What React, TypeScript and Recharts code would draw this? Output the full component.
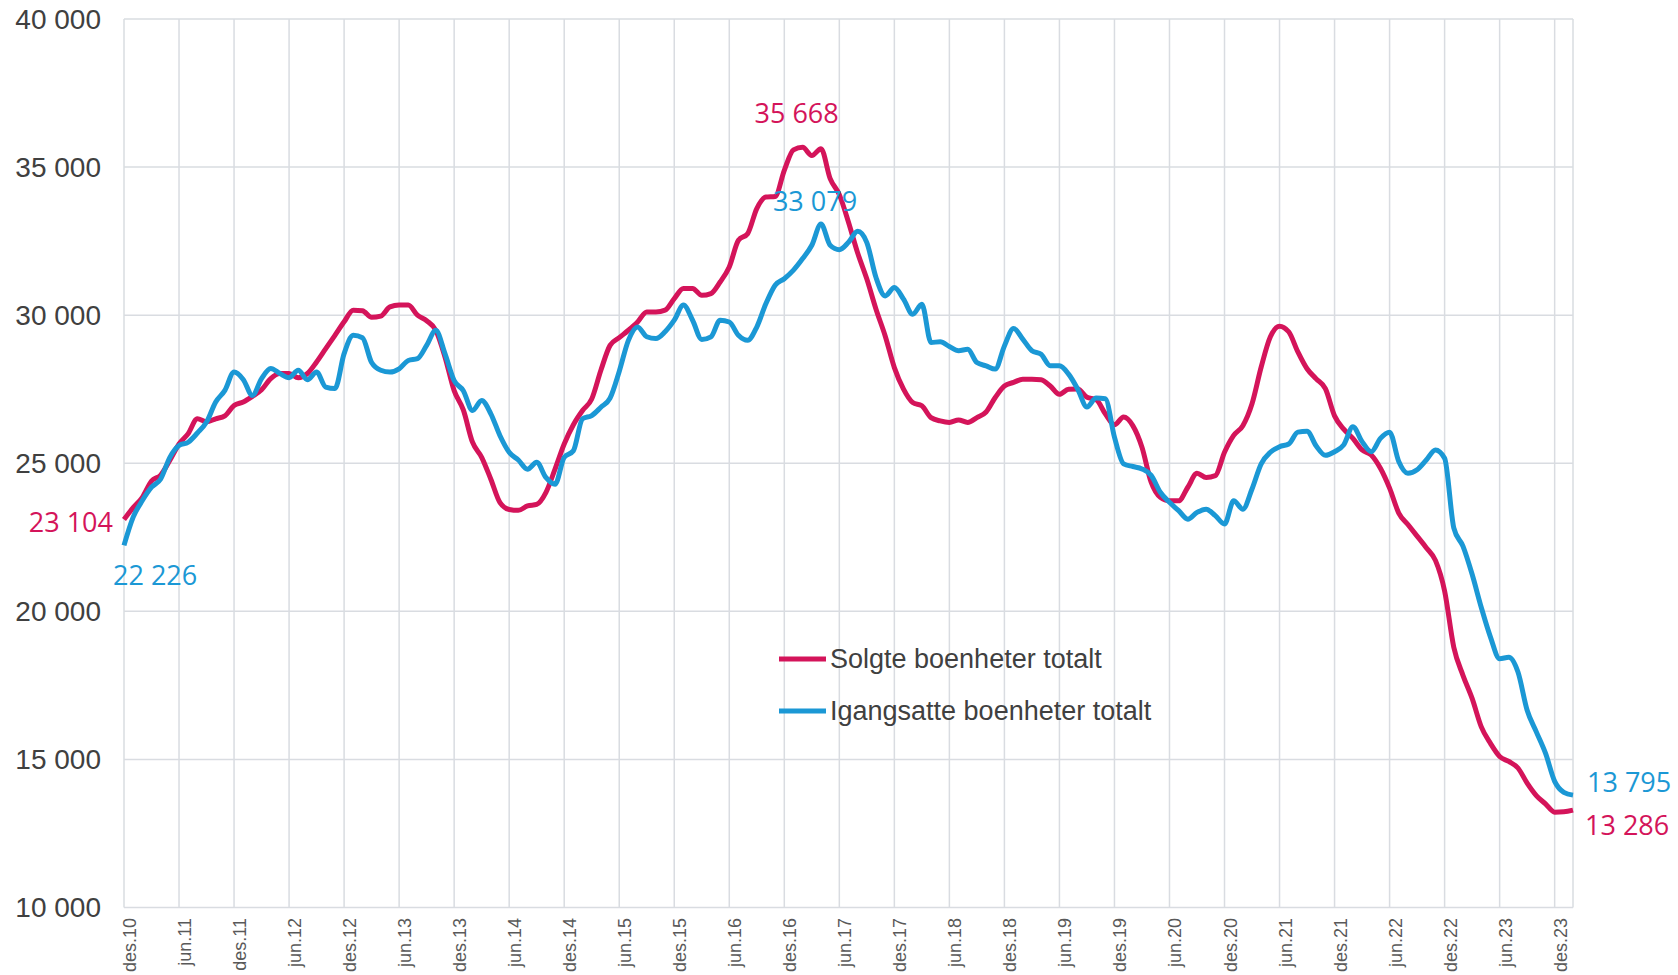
import React from "react";
import { LineChart, Line, XAxis, YAxis, CartesianGrid, Legend, LabelList } from "recharts";

const MONTH_NAMES = ["jan", "feb", "mar", "apr", "mai", "jun", "jul", "aug", "sep", "okt", "nov", "des"];
const START_YEAR = 2010;
const START_MONTH = 11; // des.10
const N_POINTS = 159; // des.10 .. feb.24

const solgte = [
  23104, 23500, 23850, 24400, 24600, 25100, 25650, 26000, 26500, 26400,
  26500, 26600, 26950, 27070, 27260, 27480, 27860, 28030, 28030, 27890,
  28030, 28420, 28870, 29320, 29775, 30170, 30150, 29930, 29970, 30280,
  30340, 30340, 30000, 29810, 29490, 28590, 27450, 26800, 25710, 25200,
  24460, 23670, 23440, 23410, 23560, 23610, 24010, 24800, 25650, 26300,
  26780, 27170, 28140, 28980, 29240, 29490, 29770, 30110, 30110, 30170,
  30560, 30900, 30900, 30670, 30730, 31120, 31630, 32530, 32750, 33600,
  33990, 34010, 34890, 35580, 35668, 35390, 35620, 34610, 34070, 33140,
  32100, 31220, 30200, 29300, 28230, 27500, 27050, 26940, 26540, 26430,
  26380, 26460, 26380, 26540, 26730, 27220, 27610, 27730, 27840, 27840,
  27820, 27610, 27330, 27500, 27510, 27230, 27150, 26670, 26300, 26560,
  26270, 25540, 24360, 23850, 23730, 23730, 24190, 24660, 24520, 24580,
  25370, 25940, 26270, 27010, 28250, 29270, 29630, 29440, 28760, 28190,
  27850, 27520, 26600, 26150, 25840, 25450, 25280, 24830, 24160, 23320,
  22930, 22540, 22150, 21720, 20690, 18790, 17840, 17060, 16100, 15540,
  15100, 14930, 14710, 14200, 13780, 13500, 13220, 13230, 13286,
];

const igangsatte = [
  22226, 23180, 23740, 24190, 24470, 25200, 25600, 25710, 26020, 26390,
  27070, 27460, 28080, 27830, 27290, 27860, 28200, 28030, 27890, 28140,
  27820, 28080, 27570, 27520, 28700, 29320, 29240, 28400, 28140, 28080,
  28190, 28470, 28530, 28980, 29490, 28700, 27790, 27450, 26780, 27120,
  26670, 25930, 25370, 25110, 24800, 25030, 24520, 24290, 25200, 25420,
  26500, 26610, 26890, 27200, 28100, 29150, 29600, 29270, 29210, 29440,
  29830, 30340, 29830, 29180, 29270, 29830, 29770, 29320, 29150, 29600,
  30390, 31010, 31230, 31520, 31910, 32360, 33079, 32360, 32210, 32460,
  32830, 32450, 31270, 30650, 30930, 30540, 30030, 30370, 29080, 29100,
  28940, 28800, 28850, 28400, 28290, 28180, 28960, 29550, 29190, 28800,
  28680, 28290, 28290, 28010, 27500, 26900, 27200, 27180, 25880, 24980,
  24890, 24810, 24590, 24020, 23680, 23400, 23110, 23340, 23450, 23230,
  22950, 23730, 23450, 24130, 24980, 25370, 25560, 25650, 26050, 26080,
  25580, 25270, 25390, 25620, 26230, 25730, 25390, 25840, 26050, 25060,
  24660, 24780, 25110, 25450, 25170, 22820, 22200, 21250, 20130, 19130,
  18400, 18450, 17950, 16660, 15930, 15210, 14260, 13890, 13795,
];

const Y_TICKS = [10000, 15000, 20000, 25000, 30000, 35000, 40000];
const X_TICK_MONTHS = ["jun", "des"];

const SERIES_NAMES = ["Solgte boenheter totalt", "Igangsatte boenheter totalt"];
const RED = "#D4145A";
const BLUE = "#1B98D5";
const GRID = "#D9DCE1";

const categories: string[] = [];
for (let i = 0; i < N_POINTS; i++) {
  const mi = (START_MONTH + i) % 12;
  const yr = START_YEAR + Math.floor((START_MONTH + i) / 12);
  categories.push(`${MONTH_NAMES[mi]}.${String(yr % 100).padStart(2, "0")}`);
}
const xTicks = categories.filter((c) => X_TICK_MONTHS.includes(c.split(".")[0]));

const data = categories.map((m, i) => ({ month: m, solgte: solgte[i], igangsatte: igangsatte[i] }));

const fmt = (v: number) => {
  const th = Math.floor(v / 1000);
  const rest = String(Math.round(v % 1000)).padStart(3, "0");
  return `${th} ${rest}`;
};

const argMax = (arr: number[]) => arr.reduce((bi, v, i) => (v > arr[bi] ? i : bi), 0);

type Spec = { index: number; dx: number; dy: number; anchor: "start" | "middle" | "end" };

const redSpecs: Spec[] = [
  { index: 0, dx: -11, dy: 2.5, anchor: "end" },
  { index: argMax(solgte), dx: -6, dy: -34, anchor: "middle" },
  { index: solgte.length - 1, dx: 12, dy: 15, anchor: "start" },
];
const blueSpecs: Spec[] = [
  { index: 0, dx: -11, dy: 29.5, anchor: "start" },
  { index: argMax(igangsatte), dx: -6, dy: -23, anchor: "middle" },
  { index: igangsatte.length - 1, dx: 14, dy: -13, anchor: "start" },
];

const makeLabel = (color: string, specs: Spec[]) => (props: any) => {
  const { x, y, index, value } = props;
  const spec = specs.find((s) => s.index === index);
  if (!spec || x == null || y == null) return null;
  return (
    <text
      x={x + spec.dx}
      y={y + spec.dy}
      dy="0.36em"
      textAnchor={spec.anchor}
      fill={color}
      fontSize={27}
      fontFamily="'Open Sans', 'Noto Sans', sans-serif"
    >
      {fmt(Number(value))}
    </text>
  );
};

const XTick = (props: any) => {
  const { x, y, payload } = props;
  return (
    <text
      transform={`translate(${x + 12},${y + 2.5}) rotate(-90)`}
      x={0}
      y={0}
      textAnchor="end"
      fontSize={18}
      fill="#595959"
      fontFamily="'Liberation Sans', Arial, sans-serif"
    >
      {payload.value}
    </text>
  );
};

const LegendContent = (props: any) => {
  const items = [...(props.payload || [])].sort(
    (a: any, b: any) => SERIES_NAMES.indexOf(a.value) - SERIES_NAMES.indexOf(b.value)
  );
  return (
    <div style={{ fontFamily: "'Liberation Sans', Arial, sans-serif" }}>
      {items.map((p: any) => (
        <div key={p.value} style={{ display: "flex", alignItems: "center", height: 52 }}>
          <svg width={47} height={8} style={{ display: "block" }}>
            <line x1={0} y1={4} x2={47} y2={4} stroke={p.color} strokeWidth={5} strokeLinecap="round" />
          </svg>
          <span style={{ marginLeft: 4, fontSize: 27, color: "#404040", lineHeight: "52px", whiteSpace: "nowrap" }}>
            {p.value}
          </span>
        </div>
      ))}
    </div>
  );
};

export default function App() {
  return (
    <div style={{ width: 1678, height: 975, background: "#fff" }}>
      <style>{"body{margin:0;background:#fff}"}</style>
      <LineChart
        width={1678}
        height={975}
        data={data}
        margin={{ top: 19, right: 105, bottom: 0, left: 0 }}
      >
        <CartesianGrid stroke={GRID} strokeWidth={1.5} />
        <XAxis
          dataKey="month"
          ticks={xTicks}
          interval={0}
          height={67.5}
          axisLine={false}
          tickLine={false}
          tick={<XTick />}
        />
        <YAxis
          domain={[10000, 40000]}
          ticks={Y_TICKS}
          width={124}
          axisLine={false}
          tickLine={false}
          tickMargin={17}
          tickFormatter={fmt}
          tick={{ fontSize: 28, fill: "#404040", fontFamily: "'Liberation Sans', Arial, sans-serif" }}
        />
        <Legend
          layout="vertical"
          align="center"
          verticalAlign="middle"
          wrapperStyle={{ left: 779, top: 633, width: 420 }}
          content={<LegendContent />}
        />
        <Line
          type="monotone"
          dataKey="solgte"
          name={SERIES_NAMES[0]}
          stroke={RED}
          strokeWidth={5}
          dot={false}
          activeDot={false}
          isAnimationActive={false}
        >
          <LabelList dataKey="solgte" content={makeLabel(RED, redSpecs)} />
        </Line>
        <Line
          type="monotone"
          dataKey="igangsatte"
          name={SERIES_NAMES[1]}
          stroke={BLUE}
          strokeWidth={5}
          dot={false}
          activeDot={false}
          isAnimationActive={false}
        >
          <LabelList dataKey="igangsatte" content={makeLabel(BLUE, blueSpecs)} />
        </Line>
      </LineChart>
    </div>
  );
}
